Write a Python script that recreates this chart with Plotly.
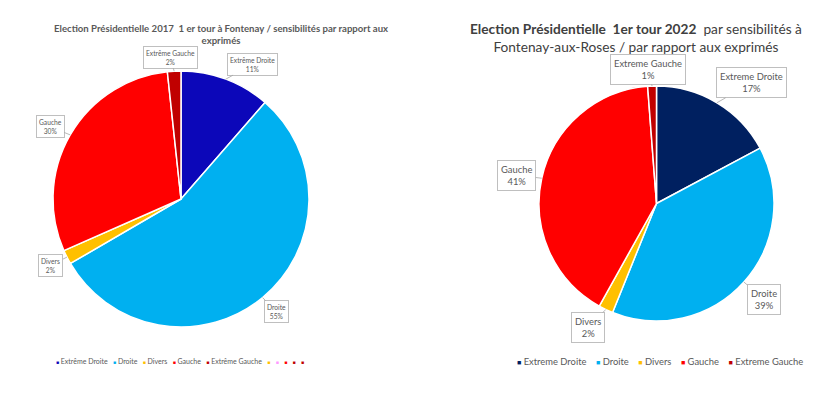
import math
import plotly.graph_objects as go

# ---------------- data ----------------
cats_2017 = ["Extrême Droite", "Droite", "Divers", "Gauche", "Extrême Gauche"]
vals_2017 = [11.4, 55.2, 1.8, 29.9, 1.7]
cols_2017 = ["#0c07b9", "#00b0f0", "#ffc000", "#ff0000", "#c00000"]
extra_legend_cols_2017 = ["#ffc000", "#ff99ff", "#ff0000", "#c00000", "#c00000"]

cats_2022 = ["Extreme Droite", "Droite", "Divers", "Gauche", "Extreme Gauche"]
vals_2022 = [17.2, 38.9, 2.0, 40.7, 1.2]
cols_2022 = ["#002060", "#00b0f0", "#ffc000", "#ff0000", "#c00000"]

title_2017 = "Election Présidentielle 2017\u00a0 1 er tour à Fontenay / sensibilités par rapport aux<br>exprimés"
title_2022 = ("<b>Election Présidentielle\u00a0 1er tour 2022</b>\u00a0 par sensibilités à"
              "<br>Fontenay-aux-Roses / par rapport aux exprimés")

# ---------------- layout / style ----------------
PAGE_W, PAGE_H = 840, 397
OFF = 8                      # default body margin of the html page
W, H = PAGE_W - 2 * OFF, PAGE_H - 2 * OFF
FONT = "Lato"
GREY = "#595959"

# pie geometry in page pixels (left, right, top, bottom)
box_2017 = (53, 309, 71, 327)
box_2022 = (539, 774, 86, 321)

# label offsets (pixels) from slice edge to label centre
offs_2017 = [(27, -15), (14, 14), (-16, 8), (-20, -8), (-4, -14)]
offs_2022 = [(35, -20), (20, 17), (-18, 18), (-25, -3), (-4, -17)]


def px2x(px):
    return (px - OFF) / W


def py2y(py):
    return 1 - (py - OFF) / H


def domain(b):
    l, r, t, btm = b
    return dict(x=[px2x(l), px2x(r)], y=[py2y(btm), py2y(t)])


fig = go.Figure()
for vals, cats, cols, b in [(vals_2017, cats_2017, cols_2017, box_2017),
                            (vals_2022, cats_2022, cols_2022, box_2022)]:
    fig.add_trace(go.Pie(
        labels=cats, values=vals, sort=False, direction="clockwise", rotation=0,
        marker=dict(colors=cols, line=dict(color="white", width=1.5)),
        textinfo="none", hoverinfo="label+percent", showlegend=False,
        domain=domain(b),
    ))

annotations = []


def add_labels(vals, cats, b, offs, fsize, pad):
    l, r, t, btm = b
    cx, cy = (l + r) / 2, (t + btm) / 2
    rad = (r - l) / 2
    tot = sum(vals)
    cum = 0
    for v, c, (ax, ay) in zip(vals, cats, offs):
        mid = (cum + v / 2) / tot * 2 * math.pi
        cum += v
        px = cx + rad * math.sin(mid)
        py = cy - rad * math.cos(mid)
        annotations.append(dict(
            x=px2x(px), y=py2y(py), xref="paper", yref="paper",
            text=f"{c}<br>{round(v / tot * 100)}%",
            showarrow=True, arrowhead=0, arrowwidth=0.8, arrowcolor="#a6a6a6",
            ax=ax, ay=ay, standoff=0,
            font=dict(family=FONT, size=fsize, color=GREY),
            bgcolor="white", bordercolor="#bfbfbf", borderwidth=1, borderpad=pad,
            align="center",
        ))


add_labels(vals_2017, cats_2017, box_2017, offs_2017, 6.7, 2)
add_labels(vals_2022, cats_2022, box_2022, offs_2022, 9.4, 3)

# titles
annotations.append(dict(x=px2x(221), y=py2y(35), xref="paper", yref="paper",
                        xanchor="center", yanchor="middle",
                        text="<b>" + title_2017 + "</b>", showarrow=False,
                        font=dict(family=FONT, size=9.6, color=GREY), align="center"))
annotations.append(dict(x=px2x(636), y=py2y(37), xref="paper", yref="paper",
                        xanchor="center", yanchor="middle",
                        text=title_2022, showarrow=False,
                        font=dict(family=FONT, size=13.7, color="#404040"), align="center"))


def legend_text(cats, cols, extra, msize, gap):
    parts = []
    for c, col in zip(cats, cols):
        parts.append(f"<span style='color:{col};font-size:{msize}px'>■</span>\u00a0{c}")
    for col in extra:
        parts.append(f"<span style='color:{col};font-size:{msize}px'>■</span>")
    return gap.join(parts)


annotations.append(dict(x=px2x(180), y=py2y(361), xref="paper", yref="paper",
                        xanchor="center", yanchor="middle",
                        text=legend_text(cats_2017, cols_2017, extra_legend_cols_2017, 5, "\u00a0\u00a0\u00a0"),
                        showarrow=False, font=dict(family=FONT, size=7, color=GREY)))
annotations.append(dict(x=px2x(660), y=py2y(361), xref="paper", yref="paper",
                        xanchor="center", yanchor="middle",
                        text=legend_text(cats_2022, cols_2022, [], 7, "\u00a0\u00a0\u00a0\u00a0"),
                        showarrow=False, font=dict(family=FONT, size=9.4, color=GREY)))

fig.update_layout(
    width=W, height=H, margin=dict(l=0, r=0, t=0, b=0),
    paper_bgcolor="white", plot_bgcolor="white",
    annotations=annotations, font=dict(family=FONT),
)

fig.write_html("out.html")
